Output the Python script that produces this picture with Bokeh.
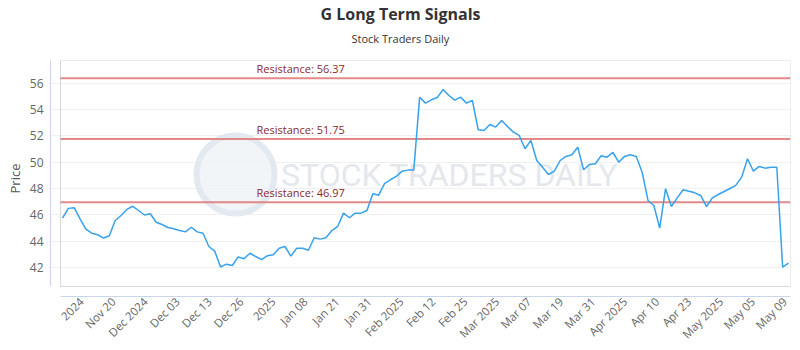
import math
from bokeh.plotting import figure
from bokeh.models import Range1d, FixedTicker, Title, BoxAnnotation, ColumnDataSource
from bokeh.core.properties import value
from bokeh.embed import file_html
from bokeh.resources import INLINE

# ---------------- data ----------------
prices = [
    45.76, 46.50, 46.55, 45.71, 44.92, 44.62, 44.50, 44.25, 44.42, 45.58,
    45.96, 46.42, 46.66, 46.34, 46.00, 46.09, 45.45, 45.28, 45.05, 44.95,
    44.82, 44.72, 45.07, 44.72, 44.62, 43.61, 43.26, 42.06, 42.27, 42.17,
    42.82, 42.68, 43.10, 42.85, 42.62, 42.91, 42.98, 43.48, 43.61, 42.88,
    43.48, 43.48, 43.33, 44.27, 44.17, 44.27, 44.82, 45.13, 46.14, 45.79,
    46.14, 46.14, 46.34, 47.61, 47.50, 48.37, 48.67, 48.92, 49.32, 49.40,
    49.40, 54.93, 54.48, 54.73, 54.90, 55.51, 55.06, 54.70, 54.93, 54.48,
    54.68, 52.46, 52.41, 52.86, 52.66, 53.16, 52.71, 52.28, 52.03, 51.02,
    51.65, 50.13, 49.62, 49.07, 49.32, 50.13, 50.44, 50.56, 51.14, 49.43,
    49.83, 49.88, 50.49, 50.38, 50.74, 50.00, 50.44, 50.56, 50.44, 49.24,
    47.10, 46.72, 45.00, 47.99, 46.64, 47.30, 47.91, 47.80, 47.68, 47.48,
    46.64, 47.30, 47.55, 47.78, 48.01, 48.24, 48.87, 50.26, 49.32, 49.68,
    49.55, 49.62, 49.62, 42.04, 42.35,
]
resistance_levels = [56.37, 51.75, 46.97]
tick_labels = ["2024", "Nov 20", "Dec 2024", "Dec 03", "Dec 13", "Dec 26", "2025",
               "Jan 08", "Jan 21", "Jan 31", "Feb 2025", "Feb 12", "Feb 25", "Mar 2025",
               "Mar 07", "Mar 19", "Mar 31", "Apr 2025", "Apr 10", "Apr 23", "May 2025",
               "May 05", "May 09"]
y_ticks = [42, 44, 46, 48, 50, 52, 54, 56]
title_text = "G Long Term Signals"
subtitle_text = "Stock Traders Daily"
y_label_text = "Price"

FONT = "Open Sans"
n = len(prices)
xs = list(range(n))

# ---------------- geometry ----------------
W, H = 800, 350
ML, MR, MT, MB = 50, 10, 0, 54
FW = W - ML - MR

pad = 0.34
x_inner_left = -pad
x_right = (n - 1) + pad
x_outer_left = -2.05
y_top = 57.71
y_inner_bottom = 40.58
y_outer_bottom = 39.82

def px_to_x(cx):
    return x_outer_left + (cx - ML) * (x_right - x_outer_left) / FW

p = figure(width=W, height=H, output_backend="svg", toolbar_location=None,
           x_range=Range1d(x_outer_left, x_right), y_range=Range1d(y_outer_bottom, y_top),
           min_border_left=ML, min_border_right=MR, min_border_bottom=MB, min_border_top=MT,
           title=None)
p.outline_line_color = None
p.background_fill_color = "white"
p.border_fill_color = "white"

# titles (stacked above the frame: spacer, subtitle, main title)
p.add_layout(Title(text=" ", text_font_size="1px", standoff=8), "above")
p.add_layout(Title(text=subtitle_text, align="left", offset=301, text_font=FONT,
                   text_font_size="11px", text_font_style="normal", text_color="#333333",
                   standoff=8), "above")
p.add_layout(Title(text=title_text, align="left", offset=270, text_font=FONT,
                   text_font_size="16px", text_font_style="bold", text_color="#333333",
                   standoff=0), "above")

# grid
p.xgrid.visible = False
p.ygrid.ticker = FixedTicker(ticks=y_ticks)
p.ygrid.grid_line_color = "#f0f0f0"
p.ygrid.grid_line_width = 1

# y axis
p.yaxis.ticker = FixedTicker(ticks=y_ticks)
p.yaxis.bounds = (y_inner_bottom, y_top)
p.yaxis.axis_line_color = "#ccd6eb"
p.yaxis.major_tick_line_color = None
p.yaxis.minor_tick_line_color = None
p.yaxis.major_tick_out = 0
p.yaxis.major_tick_in = 0
p.yaxis.minor_tick_out = 0
p.yaxis.minor_tick_in = 0
p.yaxis.major_label_text_font = FONT
p.yaxis.major_label_text_font_size = "12px"
p.yaxis.major_label_text_color = "#666666"
p.yaxis.major_label_standoff = 7
p.yaxis.axis_label = y_label_text
p.yaxis.axis_label_text_font = FONT
p.yaxis.axis_label_text_font_size = "13px"
p.yaxis.axis_label_text_font_style = "normal"
p.yaxis.axis_label_text_color = "#555555"
p.yaxis.axis_label_standoff = 3

# x axis
first_tick = 3.245
tick_step = 5.46
tick_pos = [round(first_tick + k * tick_step, 4) for k in range(len(tick_labels))]
p.xaxis.ticker = FixedTicker(ticks=tick_pos)
p.xaxis.major_label_overrides = {t: lab for t, lab in zip(tick_pos, tick_labels)}
p.xaxis.bounds = (x_inner_left, x_right)
p.xaxis.axis_line_color = "#ccd6eb"
p.xaxis.major_tick_line_color = None
p.xaxis.minor_tick_line_color = None
p.xaxis.major_tick_out = 0
p.xaxis.major_tick_in = 0
p.xaxis.minor_tick_out = 0
p.xaxis.minor_tick_in = 0
p.xaxis.major_label_orientation = math.pi / 4
p.xaxis.major_label_text_font = FONT
p.xaxis.major_label_text_font_size = "11.5px"
p.xaxis.major_label_text_color = "#666666"
p.xaxis.major_label_standoff = 3

# watermark
p.scatter([px_to_x(235)], [49.07], size=78, marker="circle", fill_color="#eef2f6",
          fill_alpha=0.8, line_color="#e2e9f0", line_width=6)
p.text([px_to_x(449)], [49.0], text=["STOCK TRADERS DAILY"], text_font=value("Roboto"),
       text_font_size="32px", text_color="#e4e8ed", text_align="center",
       text_baseline="middle")

# inner frame
p.add_layout(BoxAnnotation(left=x_inner_left, right=x_right, bottom=y_inner_bottom, top=y_top,
                           fill_alpha=0, line_color="#7f7f7f", line_width=1))

# resistance lines
res_src = ColumnDataSource(dict(
    y=resistance_levels,
    x0=[x_inner_left] * len(resistance_levels),
    x1=[x_right] * len(resistance_levels),
    lx=[px_to_x(256)] * len(resistance_levels),
    label=[f"Resistance: {v:.2f}" for v in resistance_levels],
))
p.segment(x0="x0", x1="x1", y0="y", y1="y", source=res_src, line_color="#e07c7c",
          line_width=2, line_alpha=0.9)
p.text(x="lx", y="y", text="label", source=res_src, text_font=value(FONT),
       text_font_size="11px", text_color="#8b2a2a", text_baseline="bottom", y_offset=-2)

# price line
p.line(xs, prices, line_color="#36a2eb", line_width=1.5)

open("out.html", "w").write(file_html(p, INLINE))
